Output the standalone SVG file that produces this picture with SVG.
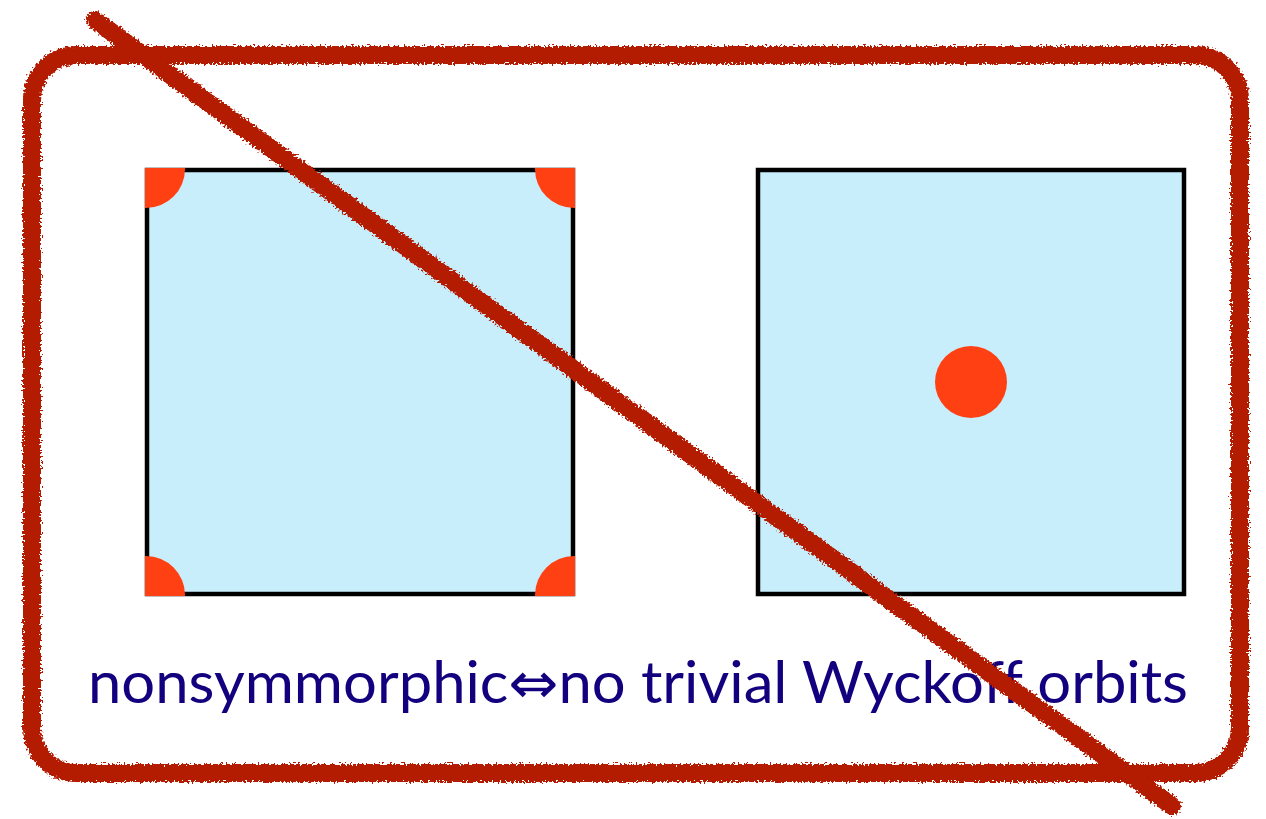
<svg xmlns="http://www.w3.org/2000/svg" width="1266" height="819" viewBox="0 0 1266 819">
<style>
.cell{fill:#C9EEFB;stroke:#000;stroke-width:4.5}
.site{fill:#FF4013}
.scrawl{fill:none;stroke:#B31A00;stroke-width:18;stroke-linecap:round;filter:url(#rough)}
.label{font-family:Lato,"DejaVu Sans",sans-serif;font-size:58px;fill:#12007F}
</style>
<defs>
<filter id="rough" x="-5%" y="-5%" width="110%" height="110%">
<feTurbulence type="fractalNoise" baseFrequency="0.5" numOctaves="2" seed="3" result="n"/>
<feDisplacementMap in="SourceGraphic" in2="n" scale="8" xChannelSelector="R" yChannelSelector="G"/>
</filter>
<clipPath id="c1"><rect x="145" y="168" width="430" height="428"/></clipPath>
</defs>
<rect width="1266" height="819" fill="#fff"/>
<g id="frame">
<rect class="scrawl" x="32" y="55" width="1208" height="718" rx="45"/>
</g>
<g id="cell-left">
<rect class="cell" x="147" y="170" width="426" height="424"/>
<g clip-path="url(#c1)">
<circle class="site" cx="146" cy="169" r="39"/>
<circle class="site" cx="574" cy="169" r="39"/>
<circle class="site" cx="146" cy="595" r="39"/>
<circle class="site" cx="574" cy="595" r="39"/>
</g>
</g>
<g id="cell-right">
<rect class="cell" x="758" y="170" width="426" height="424"/>
<circle class="site" cx="971" cy="382" r="36"/>
</g>
<g id="caption">
<text class="label" x="88" y="703" textLength="1100" lengthAdjust="spacingAndGlyphs">nonsymmorphic⇔no trivial Wyckoff orbits</text>
</g>
<g id="connectors">
<line class="scrawl" x1="95" y1="20" x2="1172" y2="806"/>
</g>
</svg>
